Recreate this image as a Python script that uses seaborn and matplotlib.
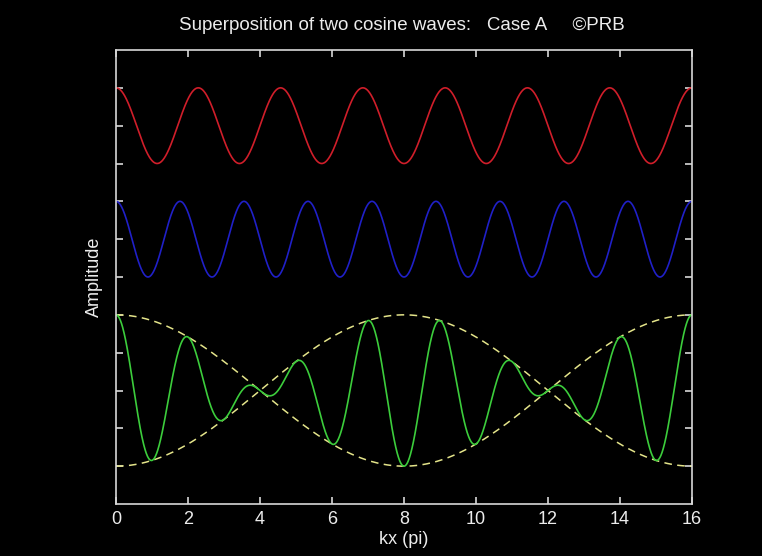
import numpy as np
import pandas as pd
import matplotlib
matplotlib.use("Agg")
import matplotlib.pyplot as plt
import seaborn as sns

# ---- data ----
x_range = [0, 16]                 # kx in units of pi
x_ticks = [0, 2, 4, 6, 8, 10, 12, 14, 16]
y_ticks = [-2, -1, 0, 1, 2, 3, 4, 5, 6, 7, 8]
cycles = [7, 9]                   # full cycles of wave 1 (red) and wave 2 (blue) over the range
offsets = [7, 4, 0]               # vertical offsets: red, blue, sum (green)
amplitude = [1.0, 1.0]
title = "Superposition of two cosine waves:   Case A     \u00a9PRB"

red_c = "#d01e2a"
blue_c = "#2020c8"
green_c = "#3ccd3c"
yellow_c = "#e4e48a"
axis_c = "#d8d8d8"
text_c = "#ececec"

# ---- curves built from the read parameters ----
kx = np.linspace(x_range[0], x_range[1], 2000)
L = x_range[1] - x_range[0]
w1 = amplitude[0] * np.cos(2 * np.pi * cycles[0] * kx / L)
w2 = amplitude[1] * np.cos(2 * np.pi * cycles[1] * kx / L)
env = 2 * np.cos(np.pi * (cycles[1] - cycles[0]) * kx / L)
df = pd.DataFrame({
    "kx": kx,
    "red": offsets[0] + w1,
    "blue": offsets[1] + w2,
    "green": offsets[2] + w1 + w2,
    "env_up": offsets[2] + env,
    "env_dn": offsets[2] - env,
})

sns.set_theme(style="dark")
plt.rcParams["font.family"] = ["Liberation Sans", "DejaVu Sans"]

fig = plt.figure(figsize=(7.62, 5.56), dpi=100, facecolor="black")
ax = fig.add_axes([116 / 762, 1 - 504 / 556, (692 - 116) / 762, (504 - 50) / 556])
ax.set_facecolor("black")

sns.lineplot(data=df, x="kx", y="red", ax=ax, color=red_c, lw=1.2)
sns.lineplot(data=df, x="kx", y="blue", ax=ax, color=blue_c, lw=1.2)
sns.lineplot(data=df, x="kx", y="env_up", ax=ax, color=yellow_c, lw=1.1, dashes=False,
             linestyle=(0, (5, 3.5)))
sns.lineplot(data=df, x="kx", y="env_dn", ax=ax, color=yellow_c, lw=1.1, dashes=False,
             linestyle=(0, (5, 3.5)))
sns.lineplot(data=df, x="kx", y="green", ax=ax, color=green_c, lw=1.2)

ax.set_xlim(x_range)
ax.set_ylim(-3, 9)
ax.set_xticks(x_ticks)
ax.set_yticks(y_ticks)
ax.set_yticklabels([])
ax.grid(False)
for s in ax.spines.values():
    s.set_visible(True)
    s.set_color(axis_c)
    s.set_linewidth(1.2)
ax.tick_params(axis="both", direction="in", length=5, width=1.2, color=axis_c,
               top=True, right=True, bottom=True, left=True,
               labelcolor=text_c, labelsize=13, pad=5)

ax.set_xlabel("kx (pi)", color=text_c, fontsize=13)
ax.xaxis.set_label_coords(0.5, -0.06)
ax.set_ylabel("Amplitude", color=text_c, fontsize=13)
ax.yaxis.set_label_coords(-0.022, 0.5)

fig.text(402 / 762, 1 - 25 / 556, title, color=text_c, fontsize=13.5,
         ha="center", va="center")

fig.savefig("out.png", dpi=100, facecolor="black")
